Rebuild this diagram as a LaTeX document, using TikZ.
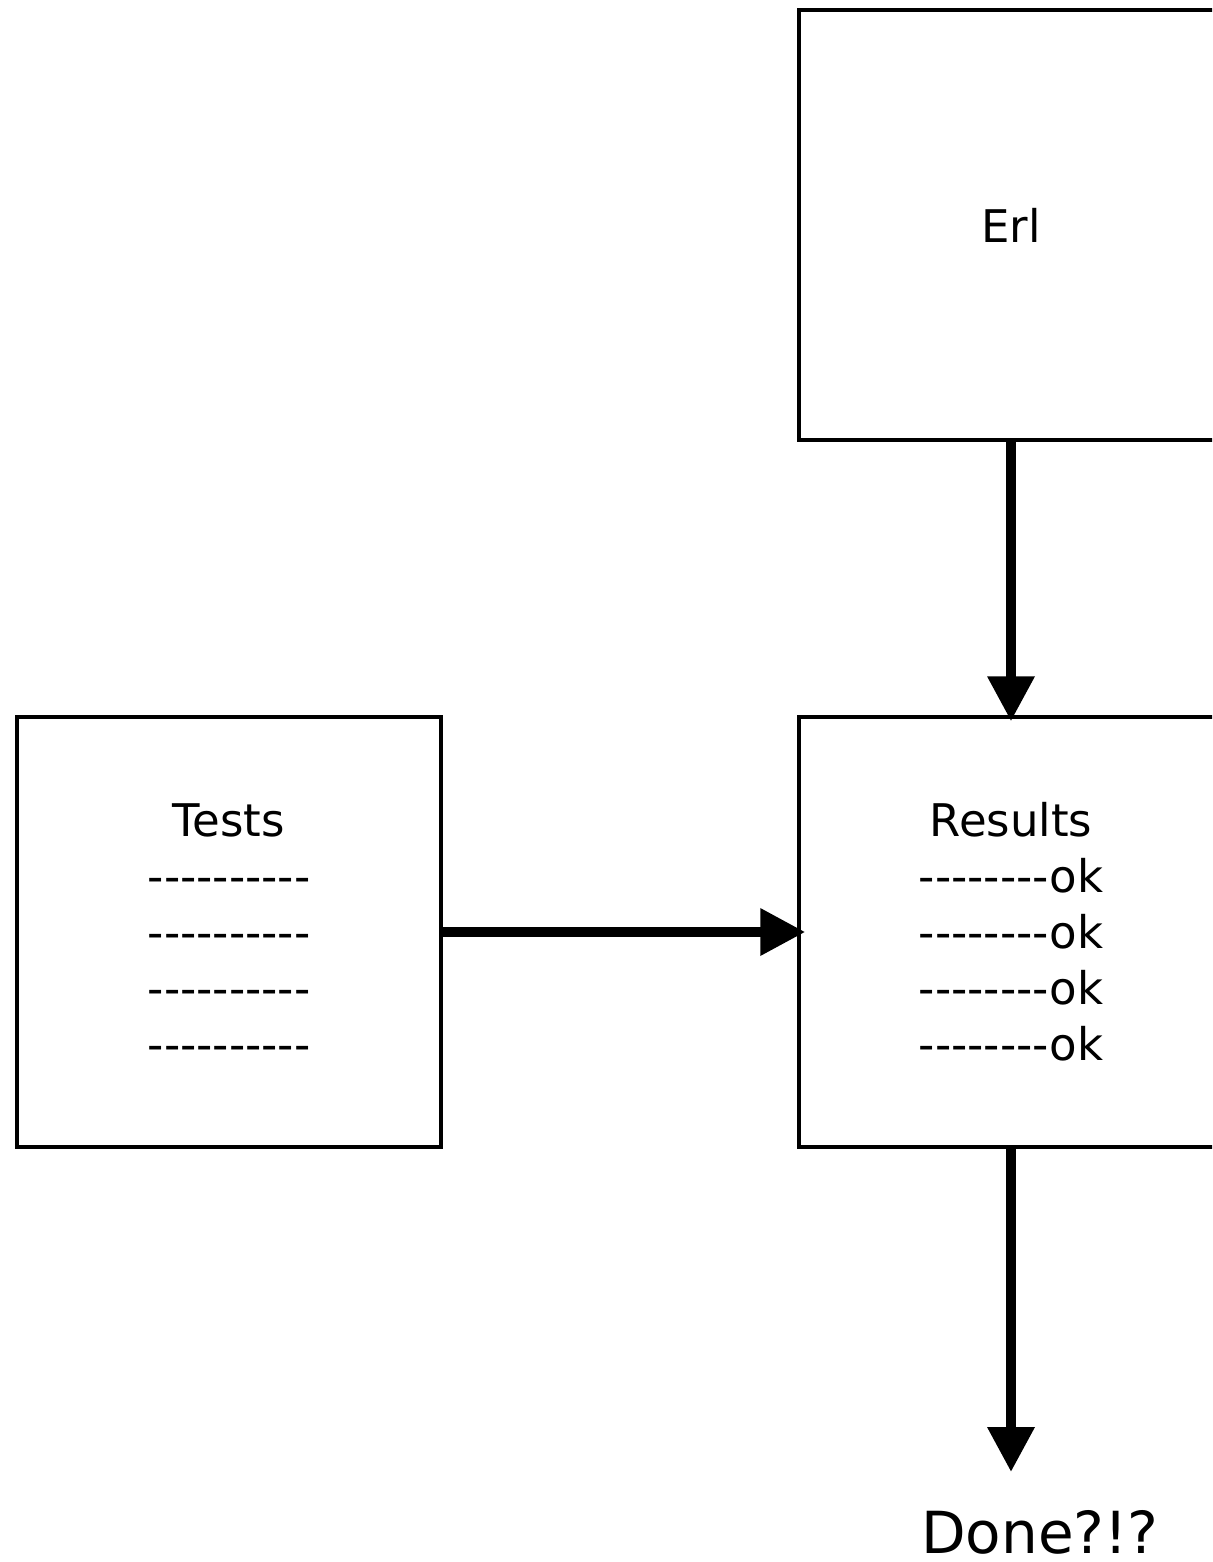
\documentclass[tikz,border=0pt]{standalone}
\usepackage{fontspec}
\setmainfont{DejaVu Sans}[Ligatures=TeXOff]
\usetikzlibrary{arrows.meta}
\begin{document}
\begin{tikzpicture}[x=1pt,y=-1pt,
  box/.style={draw, line width=3.5pt, minimum width=424pt, minimum height=430pt,
    inner sep=0pt, align=center, font=\fontsize{45}{56}\selectfont},
  flow/.style={line width=10pt, -{Triangle[length=45pt,width=45pt]}}]
  \useasboundingbox (0,0) rectangle (1212,1562);
  \clip (0,0) rectangle (1212,1562);
  \fill[white] (0,0) rectangle (1212,1562);

  \node[box] (erl) at (1011,225) {Erl};
  \node[box] (tests) at (229,932) {Tests\\----------\\----------\\----------\\----------};
  \node[box] (res) at (1011,932) {Results\\--------ok\\--------ok\\--------ok\\--------ok};
  \node[anchor=base, font=\fontsize{58}{68}\selectfont, inner sep=0pt] (done) at (1040,1553) {Done?!?};
  \coordinate (doneend) at (1013,1472);

  \draw[flow, shorten >=-6pt] (erl.south) -- (res.north);
  \draw[flow, shorten >=-8pt] (tests.east) -- (res.west);
  \draw[flow] (res.south) -- (res.south |- doneend);
\end{tikzpicture}
\end{document}
